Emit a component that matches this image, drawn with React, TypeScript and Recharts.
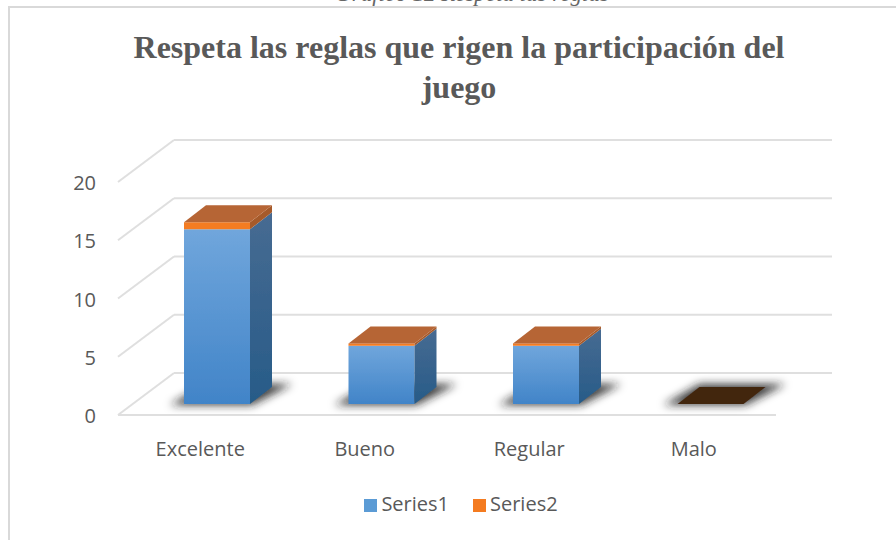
import React from 'react';
import { BarChart, Bar, XAxis, YAxis, CartesianGrid, Legend } from 'recharts';

const categories = ['Excelente', 'Bueno', 'Regular', 'Malo'];
const series1 = [15, 5, 5, 0];
const series2 = [0.6, 0.2, 0.2, 0];
const yTicks = [0, 5, 10, 15, 20];

const data = categories.map((name, i) => ({
  name,
  Series1: series1[i],
  Series2: series2[i],
}));

// the plot area is the back wall; everything else is pushed forward from it
const WALL_DX = 56;
const WALL_DY = 42;
const BAR_DX = 39;
const BAR_DY = 31;
const DEPTH_X = 22;
const DEPTH_Y = 17;

const FONT = '"Open Sans", sans-serif';
const GRID = '#dfdfdf';

const GridLine = ({ x1, x2, y1, index }: any) => (
  <g key={`grid-${index}`}>
    <line x1={x1} x2={x2} y1={y1} y2={y1} stroke={GRID} strokeWidth={2} />
    <line x1={x1} y1={y1} x2={x1 - WALL_DX} y2={y1 + WALL_DY} stroke={GRID} strokeWidth={2} />
    {index === 0 && (
      <line x1={x1 - WALL_DX} x2={x2 - WALL_DX} y1={y1 + WALL_DY} y2={y1 + WALL_DY} stroke={GRID} strokeWidth={2} />
    )}
  </g>
);

const YTick = ({ x, y, payload }: any) => (
  <text x={x - 70} y={y + WALL_DY + 8} textAnchor="end" fontFamily={FONT} fontSize={20} fill="#595959">
    {payload.value}
  </text>
);

const XTick = ({ x, y, payload }: any) => (
  <text x={x - WALL_DX} y={y + 75} textAnchor="middle" fontFamily={FONT} fontSize={20} fill="#595959">
    {payload.value}
  </text>
);

const pts = (list: number[][]) => list.map((p) => p.join(',')).join(' ');

const Bar3D = ({ x, y, width, height, front, side, top, shadow }: any) => {
  const l = x - BAR_DX;
  const r = l + width;
  const t = y + BAR_DY;
  const b = t + height;
  const flat = height < 0.01;
  return (
    <g>
      {shadow && (
        <polygon
          filter="url(#shadowBlur)"
          fill="#1c1c1c"
          fillOpacity={0.85}
          points={pts([
            [l - 14, b + 1],
            [r + 2, b + 1],
            [r + DEPTH_X + 20, b - 20],
            [l + DEPTH_X, b - 20],
          ])}
        />
      )}
      <g filter="url(#soft)">
        {!flat && <rect x={l} y={t} width={width} height={height} fill={front} />}
        {!flat && (
          <polygon
            fill={side}
            points={pts([
              [r, t],
              [r + DEPTH_X, t - DEPTH_Y],
              [r + DEPTH_X, b - DEPTH_Y],
              [r, b],
            ])}
          />
        )}
        {top && (
          <polygon
            fill={flat ? '#43250f' : top}
            points={pts([
              [l, t],
              [r, t],
              [r + DEPTH_X, t - DEPTH_Y],
              [l + DEPTH_X, t - DEPTH_Y],
            ])}
          />
        )}
      </g>
    </g>
  );
};

export default function App() {
  return (
    <div style={{ position: 'absolute', left: 0, top: 0, width: 896, height: 540, overflow: 'hidden', background: '#fff' }}>
      <div
        style={{
          position: 'absolute',
          top: -19,
          left: 472,
          transform: 'translateX(-50%)',
          whiteSpace: 'nowrap',
          fontFamily: '"Liberation Serif", serif',
          fontStyle: 'italic',
          fontSize: 23,
          color: '#666',
        }}
      >
        Gráfico 12 Respeta las reglas
      </div>
      <div
        style={{
          position: 'absolute',
          left: 8,
          top: 6,
          width: 900,
          height: 540,
          border: '2px solid #d9d9d9',
          boxSizing: 'border-box',
        }}
      />
      <div
        style={{
          position: 'absolute',
          left: 114,
          top: 27,
          width: 690,
          textAlign: 'center',
          fontFamily: '"Liberation Serif", serif',
          fontWeight: 'bold',
          fontSize: 32,
          lineHeight: '40px',
          color: '#595959',
        }}
      >
        Respeta las reglas que rigen la participación del juego
      </div>
      <BarChart
        width={896}
        height={540}
        data={data}
        margin={{ top: 140, right: 64, bottom: 116, left: 114 }}
        style={{ position: 'absolute', left: 0, top: 0 }}
      >
        <defs>
          <linearGradient id="blueFront" x1="0" y1="0" x2="0" y2="1">
            <stop offset="0%" stopColor="#70a6dc" />
            <stop offset="100%" stopColor="#4184c8" />
          </linearGradient>
          <linearGradient id="blueSide" x1="0" y1="0" x2="0" y2="1">
            <stop offset="0%" stopColor="#476b92" />
            <stop offset="100%" stopColor="#275b88" />
          </linearGradient>
          <filter id="soft" x="-20%" y="-20%" width="140%" height="140%">
            <feGaussianBlur stdDeviation="0.5" />
          </filter>
          <filter id="shadowBlur" x="-30%" y="-60%" width="160%" height="220%">
            <feGaussianBlur stdDeviation="4" />
          </filter>
        </defs>
        <CartesianGrid vertical={false} horizontal={(p: any) => <GridLine {...p} />} />
        <XAxis dataKey="name" axisLine={false} tickLine={false} height={24} tick={<XTick />} interval={0} />
        <YAxis width={60} domain={[0, 20]} ticks={yTicks} axisLine={false} tickLine={false} tick={<YTick />} />
        <Legend
          iconType="square"
          iconSize={13}
          wrapperStyle={{ position: 'absolute', top: 490, left: 25, width: 896, fontFamily: FONT, fontSize: 20 }}
          formatter={(value: string) => <span style={{ color: '#595959', marginRight: 14 }}>{value}</span>}
        />
        <Bar
          dataKey="Series1"
          stackId="a"
          fill="#5b9bd5"
          barSize={66}
          isAnimationActive={false}
          shape={(p: any) => <Bar3D {...p} front="url(#blueFront)" side="url(#blueSide)" shadow />}
        />
        <Bar
          dataKey="Series2"
          stackId="a"
          fill="#f47b20"
          barSize={66}
          isAnimationActive={false}
          shape={(p: any) => <Bar3D {...p} front="#f47b20" side="#a65a2a" top="#b66535" />}
        />
      </BarChart>
    </div>
  );
}
